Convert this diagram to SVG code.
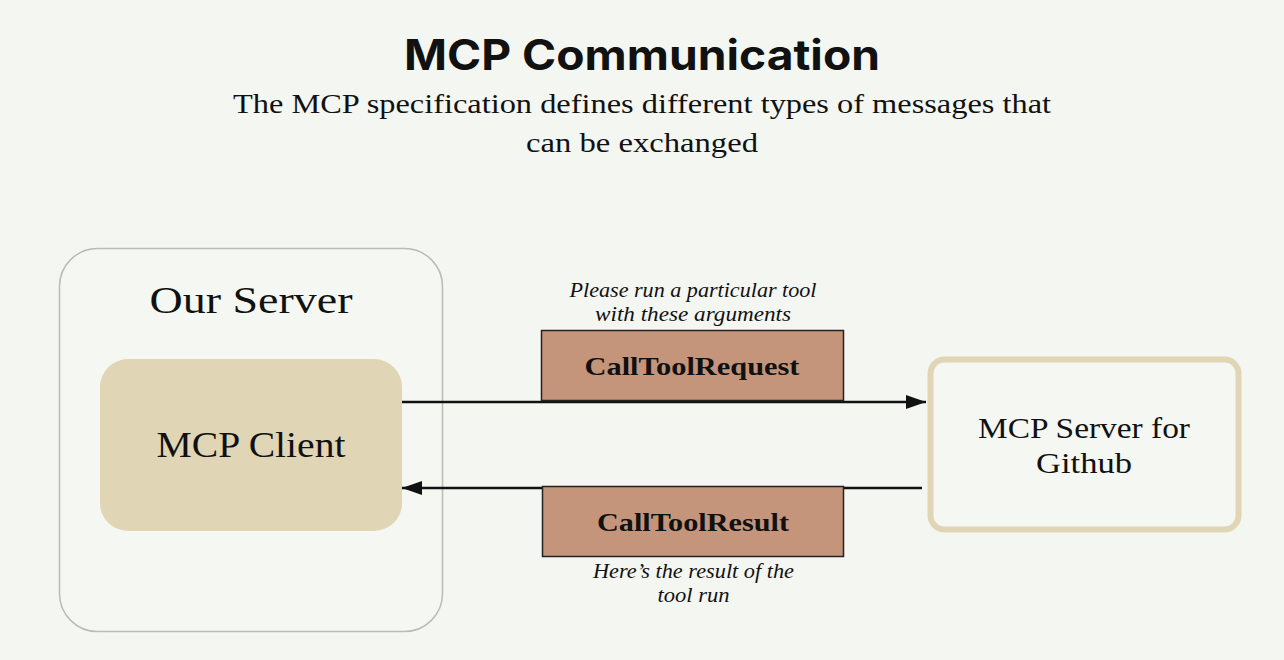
<svg xmlns="http://www.w3.org/2000/svg" width="1284" height="660" viewBox="0 0 1284 660">
<defs>
<style>
.serif{font-family:"Liberation Serif","DejaVu Serif",serif;fill:#111}
.title{font-family:Inter,"Noto Sans",sans-serif;font-weight:700;fill:#111}
.it{font-style:italic}
.msg{fill:#c4957a;stroke:#222;stroke-width:1.5}
.conn{stroke:#111;stroke-width:2.5;fill:none}
</style>
<marker id="ah2" viewBox="0 0 20 14" refX="20" refY="7" markerWidth="20" markerHeight="14" markerUnits="userSpaceOnUse" orient="auto">
<path d="M0,0 L20,7 L0,14 z" fill="#111"/>
</marker>
</defs>
<rect width="1284" height="660" fill="#f4f6f1"/>
<g id="title">
<text class="title" x="642" y="70" text-anchor="middle" font-size="42" font-weight="800" textLength="476" lengthAdjust="spacingAndGlyphs">MCP Communication</text>
<text class="serif" x="642" y="113" text-anchor="middle" font-size="28" textLength="818" lengthAdjust="spacingAndGlyphs">The MCP specification defines different types of messages that</text>
<text class="serif" x="642" y="152" text-anchor="middle" font-size="28" textLength="232" lengthAdjust="spacingAndGlyphs">can be exchanged</text>
</g>
<g id="our-server">
<rect x="59.5" y="248.5" width="383" height="383" rx="38" fill="#f5f7f2" stroke="#bbbbb5" stroke-width="1.5"/>
<text class="serif" x="251" y="313" text-anchor="middle" font-size="38" textLength="203" lengthAdjust="spacingAndGlyphs">Our Server</text>
</g>
<g id="mcp-client">
<rect x="100" y="359" width="302" height="172" rx="28" fill="#e0d5b4"/>
<text class="serif" x="251" y="457" text-anchor="middle" font-size="36" textLength="189" lengthAdjust="spacingAndGlyphs">MCP Client</text>
</g>
<g id="mcp-server-github">
<rect x="930.5" y="359.5" width="308" height="170" rx="14" fill="#f5f7f2" stroke="#e0d5b4" stroke-width="6"/>
<text class="serif" x="1084" y="438" text-anchor="middle" font-size="30" textLength="212" lengthAdjust="spacingAndGlyphs">MCP Server for</text>
<text class="serif" x="1084" y="473" text-anchor="middle" font-size="30" textLength="96" lengthAdjust="spacingAndGlyphs">Github</text>
</g>
<g id="connectors">
<line class="conn" x1="402" y1="402" x2="926" y2="402" marker-end="url(#ah2)"/>
<line class="conn" x1="922" y1="488" x2="402" y2="488" marker-end="url(#ah2)"/>
</g>
<g id="call-tool-request">
<rect class="msg" x="541.5" y="330.5" width="302" height="70"/>
<text class="serif" x="692" y="375" text-anchor="middle" font-size="26" font-weight="700" textLength="215" lengthAdjust="spacingAndGlyphs">CallToolRequest</text>
<text class="serif it" x="693" y="297" text-anchor="middle" font-size="20" textLength="247" lengthAdjust="spacingAndGlyphs">Please run a particular tool</text>
<text class="serif it" x="693" y="321" text-anchor="middle" font-size="20" textLength="196" lengthAdjust="spacingAndGlyphs">with these arguments</text>
</g>
<g id="call-tool-result">
<rect class="msg" x="542.5" y="486.5" width="301" height="70"/>
<text class="serif" x="693" y="531" text-anchor="middle" font-size="26" font-weight="700" textLength="192" lengthAdjust="spacingAndGlyphs">CallToolResult</text>
<text class="serif it" x="693.5" y="578" text-anchor="middle" font-size="20" textLength="201" lengthAdjust="spacingAndGlyphs">Here’s the result of the</text>
<text class="serif it" x="693.5" y="602" text-anchor="middle" font-size="20" textLength="72" lengthAdjust="spacingAndGlyphs">tool run</text>
</g>
</svg>
